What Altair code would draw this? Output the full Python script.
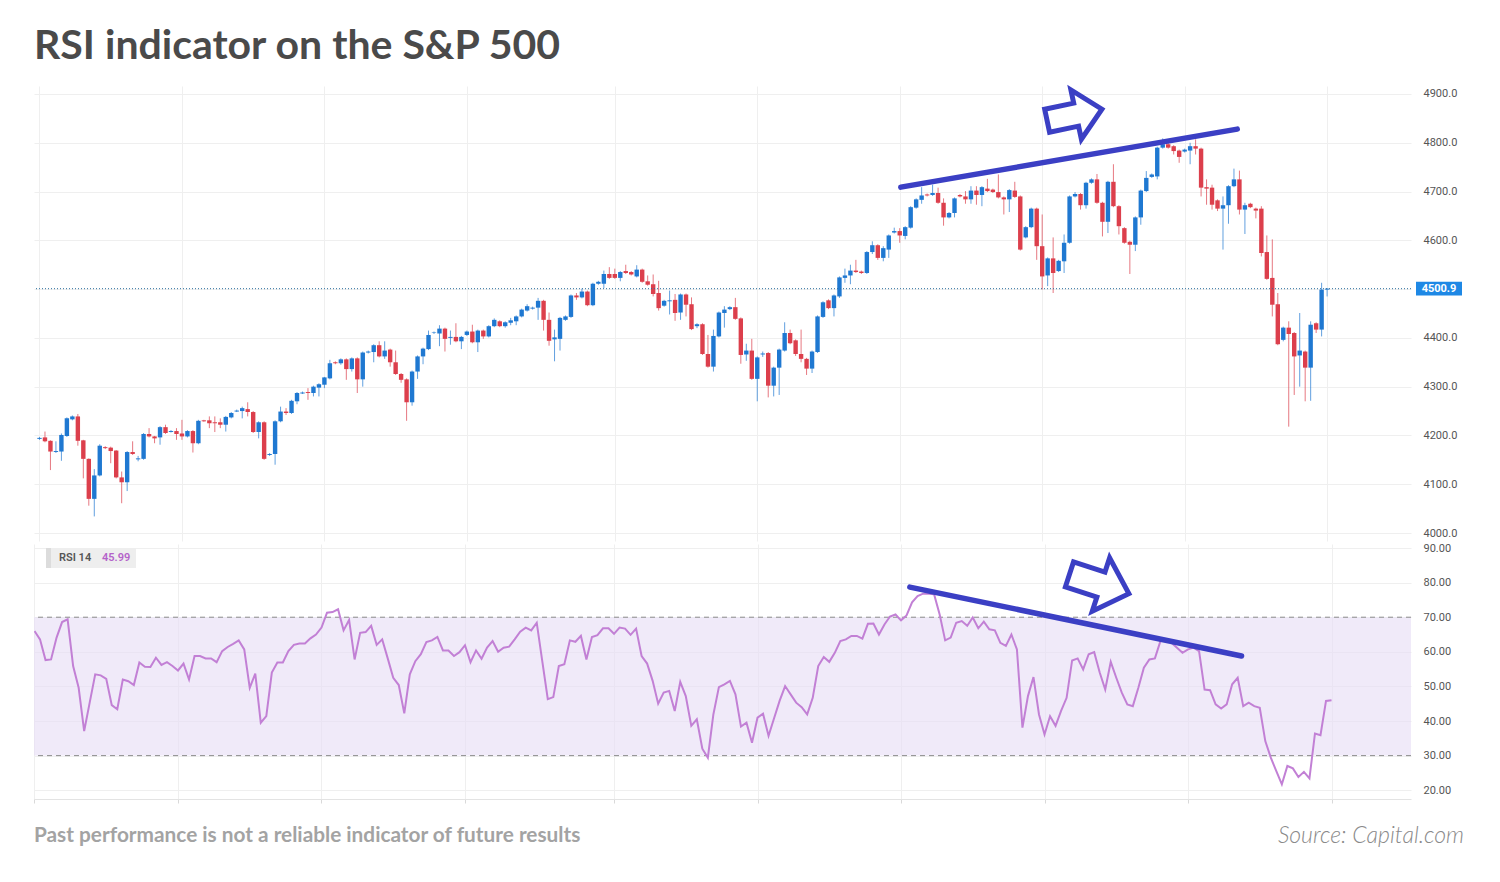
import altair as alt
import pandas as pd

# ---------------- data ----------------
opens = [4193, 4196, 4189, 4166, 4167, 4199, 4233, 4239, 4190, 4152,
         4070, 4118, 4176, 4175, 4169, 4114, 4104, 4166, 4151, 4152,
         4203, 4198, 4196, 4217, 4207, 4209, 4204, 4198, 4209, 4184,
         4231, 4231, 4227, 4227, 4222, 4237, 4249, 4250, 4254, 4248,
         4207, 4227, 4160, 4162, 4229, 4249, 4246, 4270, 4286, 4289,
         4287, 4298, 4304, 4317, 4350, 4348, 4356, 4336, 4358, 4315,
         4370, 4371, 4385, 4362, 4376, 4350, 4326, 4315, 4268, 4331,
         4362, 4377, 4410, 4409, 4419, 4400, 4402, 4393, 4406, 4413,
         4391, 4415, 4403, 4424, 4434, 4424, 4431, 4434, 4444, 4456,
         4460, 4462, 4476, 4437, 4397, 4398, 4437, 4443, 4487, 4483,
         4495, 4467, 4511, 4511, 4531, 4531, 4523, 4537, 4535, 4526,
         4540, 4516, 4510, 4492, 4466, 4475, 4478, 4452, 4489, 4469,
         4424, 4428, 4367, 4341, 4403, 4451, 4459, 4463, 4440, 4366,
         4374, 4316, 4366, 4369, 4302, 4339, 4374, 4410, 4395, 4367,
         4357, 4337, 4371, 4443, 4477, 4461, 4485, 4523, 4528, 4538,
         4536, 4533, 4576, 4590, 4564, 4581, 4616, 4619, 4609, 4626,
         4667, 4683, 4694, 4693, 4697, 4677, 4647, 4656, 4693, 4690,
         4684, 4702, 4693, 4706, 4704, 4699, 4688, 4684, 4702, 4690,
         4606, 4627, 4665, 4588, 4528, 4563, 4537, 4557, 4595, 4690,
         4695, 4672, 4718, 4725, 4677, 4638, 4720, 4670, 4625, 4597,
         4591, 4647, 4701, 4730, 4731, 4790, 4797, 4793, 4784, 4782,
         4784, 4793, 4788, 4709, 4708, 4682, 4665, 4672, 4711, 4725,
         4663, 4675, 4665, 4665, 4576, 4523, 4469, 4396, 4421, 4410,
         4364, 4372, 4339, 4430, 4417, 4499]
closes = [4195, 4188, 4167, 4168, 4201, 4235, 4239, 4189, 4152, 4070,
          4118, 4179, 4174, 4168, 4114, 4104, 4166, 4162, 4153, 4203,
          4198, 4194, 4217, 4205, 4209, 4203, 4198, 4209, 4184, 4230,
          4229, 4225, 4225, 4222, 4238, 4246, 4251, 4256, 4248, 4207,
          4227, 4152, 4162, 4229, 4249, 4246, 4271, 4287, 4288, 4287,
          4300, 4305, 4319, 4348, 4348, 4356, 4336, 4358, 4315, 4370,
          4372, 4385, 4362, 4374, 4350, 4326, 4314, 4268, 4331, 4362,
          4378, 4406, 4411, 4419, 4398, 4402, 4393, 4402, 4413, 4391,
          4415, 4403, 4424, 4437, 4424, 4432, 4436, 4444, 4458, 4465,
          4462, 4476, 4437, 4394, 4401, 4441, 4444, 4487, 4483, 4495,
          4467, 4511, 4515, 4531, 4523, 4523, 4535, 4533, 4530, 4540,
          4515, 4509, 4490, 4461, 4476, 4477, 4451, 4489, 4468, 4418,
          4428, 4367, 4341, 4404, 4452, 4458, 4463, 4439, 4365, 4374,
          4316, 4360, 4368, 4302, 4339, 4376, 4410, 4389, 4367, 4357,
          4337, 4372, 4444, 4473, 4461, 4487, 4524, 4528, 4538, 4535,
          4533, 4576, 4590, 4564, 4584, 4610, 4619, 4610, 4627, 4668,
          4684, 4692, 4692, 4697, 4677, 4647, 4656, 4686, 4690, 4684,
          4702, 4693, 4709, 4701, 4699, 4688, 4684, 4703, 4689, 4581,
          4627, 4665, 4588, 4526, 4563, 4533, 4558, 4595, 4690, 4695,
          4672, 4718, 4725, 4677, 4638, 4720, 4670, 4629, 4595, 4591,
          4647, 4702, 4728, 4735, 4790, 4797, 4790, 4783, 4771, 4786,
          4793, 4788, 4708, 4706, 4673, 4665, 4672, 4711, 4725, 4663,
          4672, 4668, 4661, 4574, 4521, 4468, 4387, 4421, 4408, 4362,
          4374, 4339, 4427, 4417, 4499, 4501]
highs = [4197, 4208, 4190, 4188, 4204, 4237, 4241, 4244, 4191, 4153,
         4131, 4182, 4178, 4177, 4170, 4126, 4168, 4188, 4158, 4205,
         4215, 4199, 4219, 4222, 4211, 4215, 4232, 4211, 4211, 4232,
         4232, 4239, 4239, 4235, 4240, 4248, 4253, 4259, 4268, 4250,
         4229, 4229, 4164, 4231, 4259, 4256, 4273, 4289, 4290, 4297,
         4302, 4307, 4320, 4355, 4352, 4358, 4358, 4360, 4360, 4372,
         4374, 4387, 4393, 4393, 4378, 4374, 4328, 4317, 4333, 4364,
         4380, 4415, 4413, 4426, 4421, 4415, 4430, 4404, 4415, 4427,
         4417, 4417, 4426, 4440, 4436, 4434, 4441, 4446, 4460, 4469,
         4464, 4482, 4478, 4452, 4417, 4443, 4446, 4489, 4492, 4501,
         4497, 4513, 4517, 4538, 4545, 4542, 4537, 4550, 4537, 4549,
         4542, 4528, 4530, 4517, 4478, 4497, 4490, 4491, 4491, 4483,
         4430, 4430, 4406, 4417, 4454, 4465, 4465, 4482, 4442, 4388,
         4398, 4362, 4372, 4371, 4341, 4378, 4432, 4417, 4397, 4417,
         4359, 4374, 4446, 4475, 4479, 4489, 4526, 4542, 4550, 4560,
         4538, 4578, 4598, 4592, 4588, 4612, 4626, 4625, 4629, 4670,
         4686, 4709, 4696, 4714, 4708, 4686, 4658, 4688, 4695, 4701,
         4711, 4711, 4711, 4726, 4706, 4735, 4690, 4705, 4720, 4692,
         4629, 4667, 4667, 4653, 4565, 4606, 4560, 4612, 4692, 4699,
         4697, 4720, 4727, 4736, 4679, 4722, 4756, 4672, 4627, 4599,
         4649, 4704, 4742, 4737, 4792, 4809, 4800, 4795, 4786, 4788,
         4800, 4807, 4790, 4725, 4714, 4684, 4690, 4713, 4747, 4743,
         4677, 4677, 4667, 4670, 4610, 4602, 4492, 4423, 4434, 4412,
         4451, 4374, 4434, 4432, 4513, 4502]
lows = [4191, 4186, 4129, 4164, 4148, 4197, 4231, 4179, 4112, 4056,
        4034, 4116, 4172, 4143, 4112, 4061, 4086, 4160, 4147, 4150,
        4196, 4184, 4181, 4203, 4206, 4191, 4191, 4196, 4165, 4182,
        4228, 4215, 4207, 4215, 4208, 4235, 4248, 4235, 4239, 4205,
        4194, 4150, 4158, 4140, 4227, 4242, 4244, 4264, 4285, 4273,
        4280, 4280, 4297, 4315, 4346, 4345, 4314, 4331, 4287, 4300,
        4368, 4350, 4360, 4357, 4341, 4324, 4308, 4230, 4261, 4316,
        4346, 4375, 4408, 4383, 4372, 4386, 4391, 4377, 4404, 4389,
        4371, 4398, 4401, 4422, 4422, 4421, 4426, 4426, 4442, 4454,
        4458, 4437, 4415, 4384, 4352, 4374, 4435, 4441, 4478, 4481,
        4465, 4465, 4509, 4502, 4521, 4521, 4516, 4531, 4528, 4524,
        4513, 4507, 4485, 4456, 4464, 4448, 4435, 4437, 4444, 4416,
        4420, 4365, 4339, 4331, 4401, 4421, 4457, 4437, 4347, 4353,
        4314, 4270, 4361, 4278, 4280, 4283, 4372, 4387, 4363, 4350,
        4324, 4328, 4369, 4441, 4459, 4444, 4482, 4513, 4510, 4533,
        4531, 4531, 4572, 4560, 4557, 4564, 4614, 4595, 4602, 4624,
        4665, 4675, 4690, 4691, 4675, 4630, 4645, 4647, 4688, 4675,
        4675, 4673, 4670, 4699, 4697, 4686, 4653, 4658, 4687, 4579,
        4604, 4625, 4560, 4499, 4506, 4492, 4535, 4533, 4593, 4688,
        4663, 4665, 4716, 4675, 4608, 4615, 4668, 4612, 4593, 4531,
        4578, 4632, 4699, 4728, 4725, 4788, 4788, 4776, 4759, 4780,
        4756, 4776, 4690, 4673, 4663, 4660, 4581, 4634, 4709, 4653,
        4613, 4666, 4645, 4567, 4519, 4444, 4385, 4393, 4218, 4283,
        4300, 4270, 4271, 4410, 4403, 4485]
rsi = [66.0, 63.6, 57.6, 57.8, 64.1, 68.6, 69.4, 55.9, 49.6, 37.1,
       45.3, 53.5, 53.2, 52.2, 44.6, 43.4, 52.0, 51.5, 50.4, 56.9,
       55.7, 55.6, 58.3, 56.2, 57.0, 55.9, 54.6, 56.6, 52.0, 58.8,
       58.8, 58.1, 58.1, 57.0, 60.2, 61.4, 62.3, 63.3, 60.7, 49.6,
       53.7, 39.5, 41.4, 54.0, 56.9, 56.9, 60.2, 62.0, 62.4, 62.4,
       63.9, 65.0, 67.0, 71.3, 71.5, 72.3, 66.2, 69.2, 57.8, 65.5,
       65.7, 67.5, 62.0, 63.6, 58.1, 52.5, 50.4, 42.2, 53.5, 57.3,
       59.3, 62.8, 63.3, 64.3, 60.4, 60.4, 58.8, 59.9, 61.9, 57.0,
       60.4, 58.0, 61.2, 63.1, 60.0, 61.2, 61.5, 63.6, 65.8, 67.0,
       66.2, 68.4, 57.3, 46.3, 46.9, 55.9, 56.4, 63.3, 62.9, 64.6,
       57.8, 64.3, 64.8, 66.8, 66.8, 65.2, 67.0, 66.7, 64.9, 66.7,
       58.8, 56.6, 51.6, 45.0, 48.2, 48.7, 42.9, 51.3, 47.2, 38.6,
       40.5, 32.0, 29.4, 41.9, 49.8, 50.6, 51.6, 47.7, 38.4, 39.5,
       33.7, 41.0, 42.1, 35.7, 40.8, 45.8, 50.1, 47.7, 45.3, 44.0,
       41.9, 46.7, 55.9, 58.5, 57.1, 59.7, 63.1, 63.6, 64.6, 64.6,
       63.8, 68.1, 68.2, 65.0, 67.9, 70.2, 70.8, 69.1, 70.5, 74.3,
       76.1, 76.8, 76.8, 76.6, 70.8, 63.3, 64.1, 68.4, 68.9, 67.5,
       69.9, 66.8, 68.7, 66.5, 66.2, 62.6, 61.7, 65.0, 60.7, 38.1,
       47.2, 52.7, 41.9, 36.1, 41.4, 38.6, 42.9, 46.7, 57.5, 58.1,
       54.9, 59.3, 59.9, 54.0, 49.1, 57.1, 52.5, 48.2, 44.8, 44.3,
       49.6, 55.4, 57.8, 58.1, 63.1, 63.6, 62.6, 61.2, 59.7, 60.7,
       61.2, 60.2, 49.1, 48.9, 44.8, 43.6, 44.8, 50.6, 52.5, 44.3,
       45.3, 44.3, 43.8, 34.2, 29.4, 25.5, 21.7, 27.0, 26.3, 23.8,
       25.3, 23.4, 36.4, 35.9, 45.8, 45.99]

grid_idx = [0, 26, 52, 78, 105, 131, 157, 183, 209, 235]
price_ticks = [4000, 4100, 4200, 4300, 4400, 4500, 4600, 4700, 4800, 4900]
rsi_ticks = [20, 30, 40, 50, 60, 70, 80, 90]
rsi_band = [30, 70]
last_price = 4500.9

price_trend_i = [157.2, 218.6]
price_trend_v = [4709, 4828]
rsi_trend_i = [158.6, 218.7]
rsi_trend_v = [78.7, 58.8]
price_arrow = {"i": [188.9], "v": [4857]}
rsi_arrow = {"i": [192.9], "v": [79.6]}

TITLE = "RSI indicator on the S&P 500"
FOOTER = "Past performance is not a reliable indicator of future results"
SOURCE = "Source: Capital.com"

# ---------------- styling ----------------
W, H1, H2 = 1377, 455, 255
BLUE, RED = "#1f78d1", "#dc3f4c"
ANN = "#3b3fc4"
GRID = "#efefef"
ARROW = "M -1 -0.42 L 0.06 -0.42 L 0.06 -0.9 L 1 0 L 0.06 0.9 L 0.06 0.42 L -1 0.42 Z"
BOX = "M -1 -0.3 L 1 -0.3 L 1 0.3 L -1 0.3 Z"

n = len(closes)
df = pd.DataFrame({"i": list(range(n)), "open": opens, "close": closes,
                   "high": highs, "low": lows, "rsi": rsi})
df["dir"] = ["up" if c >= o else "down" for o, c in zip(opens, closes)]

xscale = alt.Scale(domain=[-0.09, 249.4], nice=False, zero=False)
pscale = alt.Scale(domain=[3983.6, 4916.4], nice=False, zero=False)
rscale = alt.Scale(domain=[17.46, 91.16], nice=False, zero=False)
cscale = alt.Scale(domain=["up", "down"], range=[BLUE, RED])

x_price_axis = alt.Axis(values=grid_idx, labels=False, ticks=False, domain=False,
                        grid=True, gridColor=GRID)
x_rsi_axis = alt.Axis(values=grid_idx, labels=False, ticks=True, tickSize=4,
                      tickColor="#d9d9d9", domain=True, domainColor="#e3e3e3",
                      grid=True, gridColor=GRID)
y_price_axis = alt.Axis(orient="right", values=price_ticks, format=".1f", grid=True,
                        gridColor=GRID, domain=False, ticks=False, labelPadding=12,
                        labelOverlap=False)
y_rsi_axis = alt.Axis(orient="right", values=rsi_ticks, format=".2f", grid=True,
                      gridColor=GRID, domain=False, ticks=False, labelPadding=12,
                      labelOverlap=False)


def PX(f):
    return alt.X(f, scale=xscale, axis=x_price_axis, title=None)


def PY(f):
    return alt.Y(f, scale=pscale, axis=y_price_axis, title=None)


def RX(f):
    return alt.X(f, scale=xscale, axis=x_rsi_axis, title=None)


def RY(f):
    return alt.Y(f, scale=rscale, axis=y_rsi_axis, title=None)


one = pd.DataFrame({"a": [0]})

# ---------------- price pane ----------------
base = alt.Chart(df)
wicks = base.mark_rule(strokeWidth=1, opacity=0.7, clip=True).encode(
    x=PX("i:Q"), y=PY("low:Q"), y2="high:Q",
    color=alt.Color("dir:N", scale=cscale, legend=None),
)
bodies = base.mark_bar(size=4.4, clip=True).encode(
    x=PX("i:Q"), y=PY("open:Q"), y2="close:Q",
    color=alt.Color("dir:N", scale=cscale, legend=None),
)
lastline = alt.Chart(pd.DataFrame({"p": [last_price]})).mark_rule(
    color="#2a6f9e", strokeDash=[1, 2], strokeWidth=1
).encode(y=PY("p:Q"))
ptrend = alt.Chart(pd.DataFrame({"i": price_trend_i, "v": price_trend_v})).mark_line(
    color=ANN, strokeWidth=5.5, strokeCap="round"
).encode(x=PX("i:Q"), y=PY("v:Q"))
parrow = alt.Chart(pd.DataFrame(price_arrow)).mark_point(
    shape=ARROW, size=3136, filled=False, color=ANN, strokeWidth=5, angle=348,
    opacity=1, strokeJoin="miter"
).encode(x=PX("i:Q"), y=PY("v:Q"))
plabel_df = pd.DataFrame({"p": [last_price], "t": [f"{last_price:.1f}"]})
pbox = alt.Chart(plabel_df).mark_point(
    shape=BOX, size=2116, filled=True, color="#1e88e5", opacity=1
).encode(x=alt.value(1405), y=PY("p:Q"))
ptext = alt.Chart(plabel_df).mark_text(
    color="white", fontSize=11, fontWeight="bold", font="Roboto"
).encode(x=alt.value(1405), y=PY("p:Q"), text="t:N")
title = alt.Chart(pd.DataFrame({"t": [TITLE]})).mark_text(
    align="left", baseline="middle", fontSize=41, fontWeight="bold", font="Lato",
    color="#4a4a4a"
).encode(x=alt.value(0), y=alt.value(-39), text="t:N")

price = alt.layer(wicks, bodies, lastline, ptrend, parrow, pbox, ptext, title).properties(
    width=W, height=H1)

# ---------------- RSI pane ----------------
band = alt.Chart(pd.DataFrame({"a": [rsi_band[0]], "b": [rsi_band[1]]})).mark_rect(
    color="#e6dcf5", opacity=0.6
).encode(x=alt.value(0), x2=alt.value(W), y=RY("a:Q"), y2="b:Q")
dashes = alt.Chart(pd.DataFrame({"v": rsi_band})).mark_rule(
    color="#8c8c8c", strokeDash=[5, 4], strokeWidth=1
).encode(y=RY("v:Q"))
rline = base.mark_line(color="#c280d5", strokeWidth=2, clip=True).encode(
    x=RX("i:Q"), y=RY("rsi:Q"))
rtrend = alt.Chart(pd.DataFrame({"i": rsi_trend_i, "v": rsi_trend_v})).mark_line(
    color=ANN, strokeWidth=5.5, strokeCap="round"
).encode(x=RX("i:Q"), y=RY("v:Q"))
rarrow = alt.Chart(pd.DataFrame(rsi_arrow)).mark_point(
    shape=ARROW, size=3900, filled=False, color=ANN, strokeWidth=5, angle=18,
    opacity=1, strokeJoin="miter"
).encode(x=RX("i:Q"), y=RY("v:Q"))
lbox = alt.Chart(one).mark_rect(color="#eeeeee").encode(
    x=alt.value(12), x2=alt.value(102), y=alt.value(4), y2=alt.value(24))
lstrip = alt.Chart(one).mark_rect(color="#dcdcdc").encode(
    x=alt.value(12), x2=alt.value(17), y=alt.value(4), y2=alt.value(24))
ltext1 = alt.Chart(pd.DataFrame({"t": ["RSI 14"]})).mark_text(
    align="left", baseline="middle", fontSize=11, fontWeight=600, font="Roboto",
    color="#555555"
).encode(x=alt.value(25), y=alt.value(14), text="t:N")
ltext2 = alt.Chart(pd.DataFrame({"t": [f"{rsi[-1]:.2f}"]})).mark_text(
    align="left", baseline="middle", fontSize=11, fontWeight=600, font="Roboto",
    color="#b462c9"
).encode(x=alt.value(68), y=alt.value(14), text="t:N")
footer = alt.Chart(pd.DataFrame({"t": [FOOTER]})).mark_text(
    align="left", baseline="middle", fontSize=20.8, fontWeight="bold", font="Lato",
    color="#a3a3a3"
).encode(x=alt.value(0), y=alt.value(292), text="t:N")
source = alt.Chart(pd.DataFrame({"t": [SOURCE]})).mark_text(
    align="right", baseline="middle", fontSize=23, fontStyle="italic", font="Lato",
    fontWeight=300, color="#8a8a8a"
).encode(x=alt.value(1430), y=alt.value(292), text="t:N")

rsi_pane = alt.layer(band, dashes, rline, rtrend, rarrow, lbox, lstrip, ltext1, ltext2,
                     footer, source).properties(width=W, height=H2)

chart = alt.vconcat(price, rsi_pane, spacing=3, bounds="flush").properties(
    padding={"left": 33, "top": 26, "right": 0, "bottom": 10},
    background="white",
).configure_view(stroke=None).configure_axis(
    labelFont="Roboto", labelFontSize=11, labelColor="#555555", labelOverlap=False
)

chart.save("out.html", embed_options={"renderer": "svg", "actions": False})
